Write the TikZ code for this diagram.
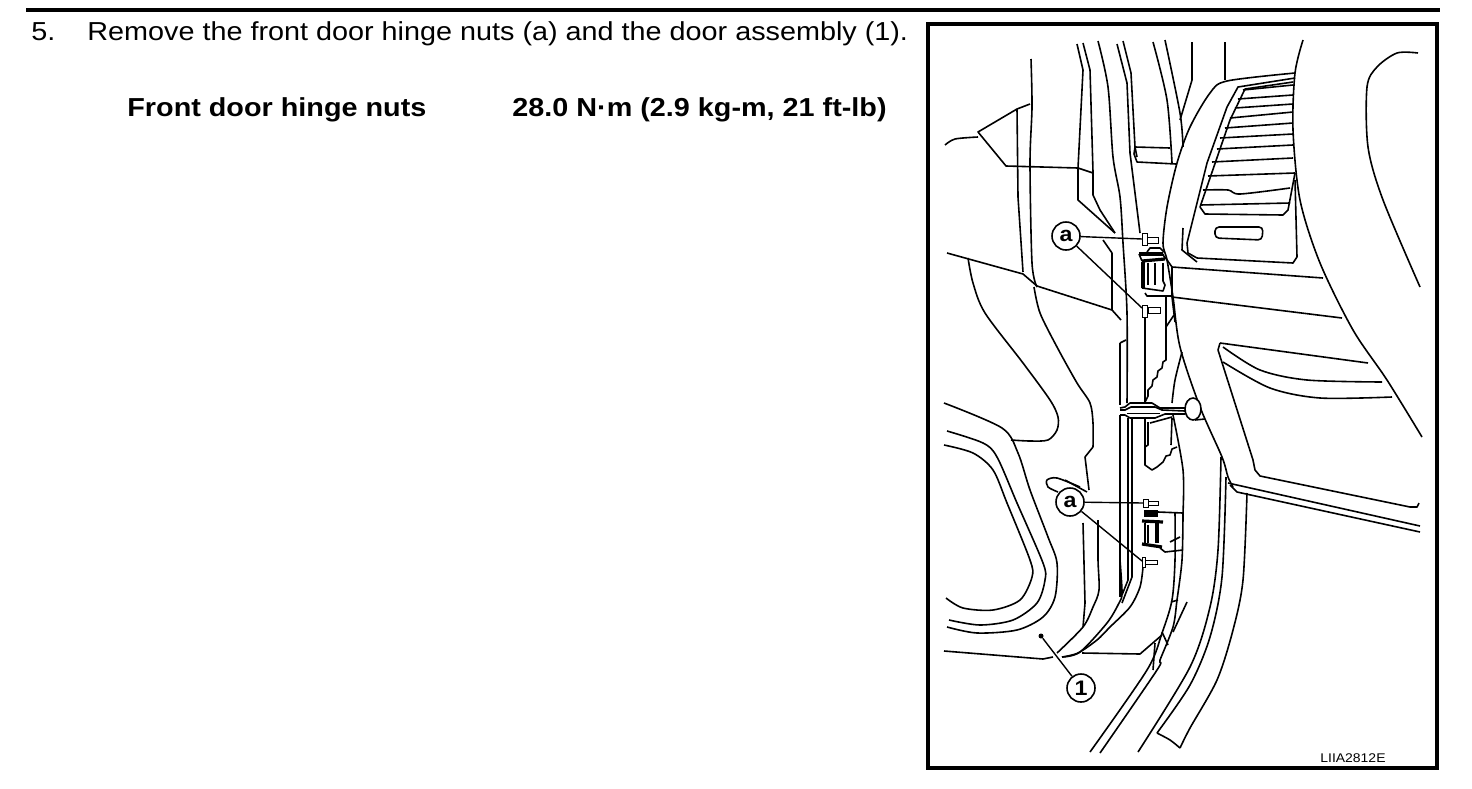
\documentclass[tikz,border=0pt]{standalone}
\usepackage{fontspec}
\setmainfont[FakeStretch=1.107]{Liberation Sans}
\usepackage{tikz}
\usetikzlibrary{calc,positioning}

\begin{document}
\begin{tikzpicture}[x=0.5pt, y=-0.5pt,
    ln/.style={line width=0.8pt, line join=round},
    thk/.style={line width=1.6pt},
    thn/.style={line width=0.45pt},
    leader/.style={line width=0.7pt},
    callout/.style={circle, draw=black, line width=0.8pt, fill=white, minimum size=14pt, inner sep=0pt, font=\fontsize{10.5}{10.5}\selectfont\bfseries},
    steptext/.style={anchor=base west, inner sep=0pt, font=\fontsize{13}{13}\selectfont},
    spec/.style={anchor=base west, inner sep=0pt, font=\fontsize{13}{13}\selectfont\bfseries}]
  \useasboundingbox (0,0) rectangle (1472,788);
  \fill[white] (0,0) rectangle (1472,788);

  % rule and frame
  \fill[black] (26,8) rectangle (1440,12);
  \draw[line width=2.2pt] (928,24) rectangle (1437,768);

  % text
  \node[steptext] (num) at (31,40) {5.};
  \node[steptext] (step5) at (87,40) {Remove the front door hinge nuts (a) and the door assembly (1).};
  \node[spec] (hingenuts) at (127,116) {Front door hinge nuts};
  \node[spec] (torque) at (512,116) {28.0 N·m (2.9 kg-m, 21 ft-lb)};
  \node[anchor=base west, inner sep=0pt, font=\fontsize{6.3}{7}\selectfont] (code) at (1320,762) {LIIA2812E};

  % quarter glass and pillar
  \draw[ln] plot[smooth] coordinates {(945,145) (955,139) (978,137)};
  \draw[ln] (1030,104) -- (1017,109) -- (978,132) -- (1006,166) -- (1078,168) -- (1093,173);
  \draw[ln] plot[smooth] coordinates {(1031,59) (1032,107) (1030,163) (1032,263) (1037,287)};
  \draw[ln] (1017,109) -- (1018,197) -- (1023,272);
  \draw[ln] (947,253) -- (1023,274) -- (1037,286) -- (1112,310) -- (1121,320);
  \draw[ln] plot[smooth] coordinates {(1034,287) (1040,313) (1057,347) (1077,383) (1090,403) (1093,423) (1093,447)};
  \draw[ln] (1093,447) -- (1085,457) -- (1089,490);
  \draw[ln] plot[smooth] coordinates {(968,258) (973,283) (985,313) (1023,363) (1050,400) (1058,417) (1057,430) (1048,440) (1030,441) (1011,440)};

  % door panel
  \draw[ln] plot[smooth] coordinates {(944,403) (1002,428) (1018,453) (1030,490) (1048,537) (1057,563) (1055,597) (1043,617) (1017,630) (977,633) (947,627)};
  \draw[ln] plot[smooth] coordinates {(947,431) (983,443) (997,457) (1017,503) (1043,563) (1045,580) (1037,603) (1013,620) (980,625) (949,620)};
  \draw[ln] plot[smooth] coordinates {(944,445) (973,453) (993,470) (1007,503) (1030,560) (1032,577) (1020,600) (993,610) (963,608) (946,598)};
  \draw[ln] (944,651) -- (1043,659) -- (1053,657);
  \draw[ln] (1082,653) -- (1140,654) -- (1162,635);
  \draw[ln] plot[smooth] coordinates {(1143,567) (1140,587) (1130,607) (1110,627) (1097,640) (1078,653) (1062,657)};
  \draw[ln] plot[smooth] coordinates {(1120,560) (1122,593) (1119,603) (1107,623) (1080,652) (1062,657)};
  \draw[ln] (1083,523) -- (1085,603) -- (1083,627);
  \draw[ln] plot[smooth] coordinates {(1098,520) (1098,560) (1099,590) (1093,607) (1083,627) (1057,653)};
  \draw[ln] plot[smooth] coordinates {(1080,487) (1057,478) (1047,480) (1048,487) (1058,492)};
  \draw[ln] (1065,480) -- (1087,492);

  % body pillar lines
  \draw[ln] (1077,44) -- (1083,70) -- (1078,168) -- (1078,200) -- (1115,233);
  \draw[ln] (1083,43) -- (1090,70) -- (1093,172) -- (1093,195) -- (1100,210) -- (1115,233);
  \draw[ln] (1103,240) -- (1112,253) -- (1112,310);
  \draw[ln] plot[smooth] coordinates {(1098,41) (1108,87) (1113,157) (1120,197) (1123,243) (1127,313) (1127,403)};
  \draw[ln] (1117,44) -- (1127,83) -- (1130,153) -- (1140,233);
  \draw[ln] (1123,41) -- (1131,73) -- (1135,147) -- (1137,157);
  \draw[ln] (1135,147) -- (1170,148);
  \draw[ln] (1135,147) -- (1134,154) -- (1137,162) -- (1176,164);
  \draw[ln] plot[smooth] coordinates {(1153,42) (1167,100) (1172,163)};
  \draw[ln] plot[smooth] coordinates {(1165,40) (1180,113) (1183,147)};
  \draw[ln] (1192,42) -- (1192,80) -- (1180,120);
  \draw[ln] (1225,42) -- (1225,80);
  \draw[ln] (1120,343) -- (1126,340);
  \draw[ln] (1120,343) -- (1120,405);
  \draw[ln] (1145,317) -- (1145,402);
  \draw[ln] (1120,415) -- (1120,597);
  \draw[ln] (1128,418) -- (1128,580) -- (1122,595);
  \draw[ln] (1132,418) -- (1132,577) -- (1122,603);

  % dash and vent
  \draw[ln] plot[smooth] coordinates {(1303,40) (1295,73) (1293,130) (1300,200) (1320,263) (1353,330) (1387,380) (1422,437)};
  \draw[ln] plot[smooth] coordinates {(1295,73) (1227,81) (1210,93) (1190,127) (1177,163) (1167,207) (1163,243) (1167,260) (1173,297) (1180,347) (1200,407) (1222,457) (1228,477) (1233,487)};
  \draw[ln] (1295,78) -- (1238,87) -- (1227,107) -- (1207,163) -- (1187,243) -- (1188,253) -- (1197,258) -- (1293,263) -- (1297,257) -- (1295,180);
  \draw[ln] (1293,82) -- (1245,89) -- (1230,120) -- (1200,207) -- (1205,214) -- (1283,215) -- (1288,210) -- (1295,173);
  \draw[ln] (1243,90) -- (1293,85);
  \draw[ln] (1238,99) -- (1293,95);
  \draw[ln] (1235,108) -- (1293,104);
  \draw[ln] (1230,118) -- (1293,112);
  \draw[ln] (1225,128) -- (1293,123);
  \draw[ln] (1220,138) -- (1293,134);
  \draw[ln] (1217,149) -- (1293,145);
  \draw[ln] (1212,162) -- (1293,158);
  \draw[ln] (1208,176) -- (1295,173);
  \draw[ln] plot[smooth] coordinates {(1203,190) (1228,190) (1240,194) (1290,188)};
  \draw[ln] (1200,205) -- (1290,203);
  \draw[ln,rounded corners=2pt] (1215,227) -- (1263,227) -- (1262,240) -- (1215,238) -- cycle;
  \draw[ln] (1183,228) -- (1182,250) -- (1197,262);
  \draw[ln] plot[smooth] coordinates {(1418,53) (1397,53) (1377,67) (1367,87) (1368,147) (1383,200) (1420,287)};
  \draw[ln] (1172,267) -- (1323,278);
  \draw[ln] (1172,297) -- (1342,318);

  % glove box
  \draw[ln] (1220,343) -- (1368,363);
  \draw[ln] (1220,343) -- (1218,350) -- (1253,460) -- (1255,470) -- (1260,476) -- (1410,507) -- (1417,507) -- (1419,503);
  \draw[ln] plot[smooth] coordinates {(1223,347) (1260,370) (1307,380) (1382,382)};
  \draw[ln] plot[smooth] coordinates {(1223,362) (1270,388) (1320,398) (1392,397)};

  % sill and kick panel
  \draw[ln] (1228,483) -- (1420,526);
  \draw[ln] (1230,485) -- (1237,492) -- (1420,532);
  \draw[ln] plot[smooth] coordinates {(1221,457) (1218,550) (1210,607) (1190,667) (1138,752)};
  \draw[ln] plot[smooth] coordinates {(1226,477) (1222,577) (1210,637) (1190,685) (1157,733)};
  \draw[ln] plot[smooth] coordinates {(1247,493) (1243,580) (1233,630) (1217,680) (1190,728) (1180,748)};
  \draw[ln] plot[smooth] coordinates {(1157,733) (1170,740) (1180,748)};
  \draw[ln] plot[smooth] coordinates {(1175,513) (1175,560) (1172,600) (1162,633) (1147,670) (1090,752)};
  \draw[ln] plot[smooth] coordinates {(1183,513) (1182,560) (1177,600) (1173,627) (1160,660) (1157,670) (1100,753)};
  \draw[ln] (1187,602) -- (1173,632);
  \draw[ln] (1171,602) -- (1178,600);
  \draw[ln] (1162,632) -- (1168,645);
  \draw[ln] (1155,643) -- (1153,670);

  % check link
  \draw[ln] (1120,408) -- (1125,407) -- (1130,403) -- (1152,403) -- (1160,408) -- (1185,408);
  \draw[ln] (1120,410) -- (1125,410) -- (1131,407) -- (1155,407) -- (1162,410) -- (1185,411);
  \draw[ln] (1120,415) -- (1125,415) -- (1130,418) -- (1155,418) -- (1165,414) -- (1185,414);
  \draw[thn] (1127,413) -- (1160,413);
  \draw[ln,fill=white] (1193,409) ellipse (8 and 11);
  \draw[ln] (1195,420) -- (1205,419);
  \draw[ln] (1166,297) -- (1166,327) -- (1174,315);
  \draw[ln] (1166,327) -- (1166,360) -- (1163,362) -- (1162,368) -- (1158,371) -- (1157,377) -- (1153,380) -- (1152,386) -- (1148,390) -- (1148,396) -- (1145,402);
  \draw[ln] plot[smooth] coordinates {(1182,352) (1175,380) (1172,403)};
  \draw[ln] (1145,418) -- (1145,465) -- (1152,470) -- (1157,467) -- (1163,462) -- (1166,456) -- (1170,455) -- (1172,449) -- (1177,447);
  \draw[ln] (1148,422) -- (1148,445) -- (1145,447);
  \draw[ln] (1150,423) -- (1172,417);
  \draw[ln] plot[smooth] coordinates {(1173,415) (1183,470) (1183,513)};
  \draw[ln] (1172,418) -- (1171,445);

  % upper hinge
  \draw[ln] (1147,252) -- (1150,248) -- (1160,248) -- (1164,252);
  \draw[thk] (1139,254) -- (1163,254);
  \draw[thk] (1142,261) -- (1165,259);
  \draw[ln] (1139,254) -- (1142,261);
  \draw[ln] (1163,254) -- (1165,259);
  \draw[ln] (1165,257) -- (1172,267) -- (1172,297) -- (1175,322);
  \draw[thk] (1143,262) -- (1143,288);
  \draw[ln] (1148,263) -- (1148,285);
  \draw[ln] (1155,263) -- (1155,285);
  \draw[ln] (1163,263) -- (1163,281) -- (1165,285) -- (1163,291) -- (1142,288);
  \draw[ln] (1145,293) -- (1147,296) -- (1172,296);

  % lower hinge
  \draw[thk] (1146,512) rectangle (1156,515);
  \draw[thk] (1142,521) -- (1163,522);
  \draw[ln] (1145,523) -- (1145,543);
  \draw[ln] (1148,525) -- (1148,543);
  \draw[thk] (1157,523) -- (1157,543);
  \draw[thk] (1142,544) -- (1162,547);
  \draw[ln] (1158,512) -- (1183,513);
  \draw[ln] (1160,548) -- (1165,552) -- (1183,550);
  \draw[ln] (1170,542) -- (1180,537);

  % bolts
  \coordinate (bolta) at (1142,239);
  \coordinate (boltb) at (1142,308);
  \coordinate (boltc) at (1143,503);
  \coordinate (boltd) at (1142,561);
  \draw[thn] (1142,233) rectangle (1147,245);
  \draw[thn] (1147,237) rectangle (1158,243);
  \draw[thn] (1142,305) rectangle (1147,317);
  \draw[thn] (1148,307) rectangle (1160,313);
  \draw[thn] (1143,499) rectangle (1148,507);
  \draw[thn] (1148,501) rectangle (1158,505);
  \draw[thn] (1142,557) rectangle (1145,567);
  \draw[thn] (1145,560) rectangle (1157,564);

  % callouts
  \node[callout] (a1) at (1066,236) {a};
  \node[callout] (a2) at (1070,502) {a};
  \node[callout] (one) at (1081,688) {1};
  \node[circle, fill=black, inner sep=0pt, minimum size=2.5pt] (door) at (1041,636) {};

  \path[leader]
    (a1) edge node {} (bolta)
         edge node {} (boltb)
    (a2) edge node {} (boltc)
         edge node {} (boltd)
    (one) edge node {} (door);
\end{tikzpicture}
\end{document}
